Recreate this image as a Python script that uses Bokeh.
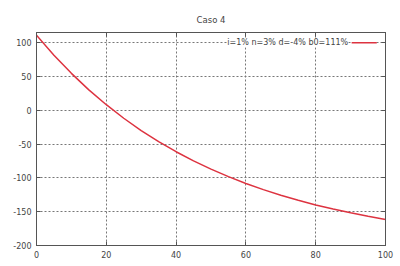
from bokeh.plotting import figure
from bokeh.models import Range1d, FixedTicker, Label, Title, LinearAxis
from bokeh.embed import file_html
from bokeh.resources import INLINE

# Data (debt ratio path, Caso 4)
years = [0, 5, 10, 15, 20, 25, 30, 35, 40, 45, 50, 55, 60, 65, 70, 75, 80, 85, 90, 95, 100]
debt = [111, 81.4, 54.6, 30.2, 8.2, -11.8, -30.0, -46.4, -61.3, -74.8, -87.1, -98.2,
        -108.2, -117.4, -125.7, -133.2, -140.0, -146.1, -151.7, -156.8, -161.4]
series_label = "i=1% n=3% d=-4% b0=111%"
title_text = "Caso 4"
x_ticks = [0, 20, 40, 60, 80, 100]
y_ticks = [-200, -150, -100, -50, 0, 50, 100]

FONT = "DejaVu Sans"
TXT = "#444444"
RED = "#dd3340"
AX = "#555555"

p = figure(width=400, height=266, output_backend="svg", toolbar_location=None,
           x_range=Range1d(0, 100), y_range=Range1d(-200, 115),
           min_border_left=36, min_border_right=15, min_border_top=32, min_border_bottom=21)

p.title = Title(text=title_text, align="center", text_font=FONT, text_font_size="8.5px",
                text_font_style="normal", text_color=TXT, standoff=16)

p.line(years, debt, line_color=RED, line_width=1.5)

for ax in (p.xaxis[0], p.yaxis[0]):
    ax.major_label_text_font = FONT
    ax.major_label_text_font_size = "8px"
    ax.major_label_text_color = TXT
    ax.axis_line_color = AX
    ax.major_tick_in = 4
    ax.major_tick_out = 0
    ax.major_tick_line_color = AX
    ax.minor_tick_line_color = None
    ax.major_label_standoff = 5
p.xaxis[0].ticker = FixedTicker(ticks=x_ticks)
p.yaxis[0].ticker = FixedTicker(ticks=y_ticks)
p.xaxis[0].major_label_overrides = {t: str(t) for t in x_ticks}
p.yaxis[0].major_label_overrides = {t: str(t) for t in y_ticks}

# mirrored tick marks (gnuplot style) on the top and right borders
top = LinearAxis(ticker=FixedTicker(ticks=x_ticks), major_label_overrides={t: "" for t in x_ticks},
                 major_tick_in=4, major_tick_out=0, minor_tick_line_color=None,
                 axis_line_color=AX, major_tick_line_color=AX, major_label_standoff=0)
right = LinearAxis(ticker=FixedTicker(ticks=y_ticks), major_label_overrides={t: "" for t in y_ticks},
                   major_tick_in=4, major_tick_out=0, minor_tick_line_color=None,
                   axis_line_color=AX, major_tick_line_color=AX, major_label_standoff=0)
p.add_layout(top, "above")
p.add_layout(right, "right")

p.xgrid.ticker = FixedTicker(ticks=x_ticks)
p.ygrid.ticker = FixedTicker(ticks=y_ticks)
for g in (p.xgrid[0], p.ygrid[0]):
    g.grid_line_color = "#777777"
    g.grid_line_dash = "2 2"
    g.grid_line_width = 1

p.outline_line_color = AX
p.background_fill_color = "white"
p.border_fill_color = "white"

# gnuplot-style key: text on the left, line sample on the right
p.add_layout(Label(x=89.3, y=100, text=series_label, text_align="right", text_baseline="middle",
                   text_font=FONT, text_font_size="8px", text_color=TXT,
                   background_fill_color="white", background_fill_alpha=1.0))
p.segment(x0=[90.3], y0=[100], x1=[97.5], y1=[100], line_color=RED, line_width=1.5)

open("out.html", "w").write(file_html(p, INLINE))
